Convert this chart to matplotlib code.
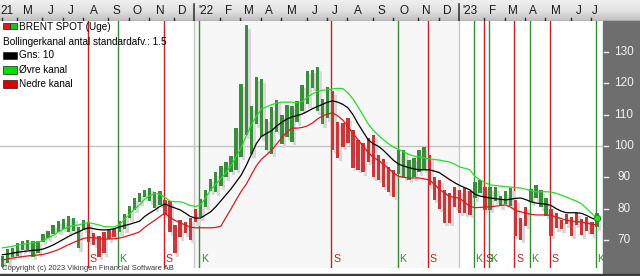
import datetime as dt
import matplotlib
matplotlib.use("Agg")
import matplotlib.pyplot as plt
from matplotlib.patches import Rectangle
from matplotlib.lines import Line2D
from matplotlib.colors import LinearSegmentedColormap
import matplotlib.transforms as mtransforms
import numpy as np

plt.rcParams['font.family'] = ['Liberation Sans', 'DejaVu Sans']

# ---------------- data (weekly Brent, week ending Fridays from 2021-04-09) ----------------
first_week_end = "2021-04-09"

high = [64.9, 67.0, 67.6, 69.0, 69.8, 70.0, 69.7, 69.7, 71.9, 72.9,
        74.9, 76.2, 76.6, 77.8, 77.1, 74.2, 76.3, 75.8, 72.3, 71.4,
        72.7, 73.5, 73.5, 76.0, 78.2, 80.8, 83.5, 85.1, 86.1, 86.7,
        85.3, 85.5, 82.7, 82.6, 74.8, 76.3, 75.7, 76.9, 79.8, 83.0,
        86.1, 89.5, 91.7, 93.7, 95.0, 96.8, 105.8, 119.8, 138.5, 112.7,
        122.0, 121.3, 108.7, 112.3, 114.8, 109.9, 113.0, 112.9, 114.3, 119.5,
        124.0, 124.4, 125.2, 115.1, 118.8, 117.5, 107.6, 107.3, 109.0, 105.0,
        102.0, 101.0, 102.5, 103.5, 97.0, 96.0, 93.3, 92.4, 98.7, 98.7,
        95.5, 96.2, 98.7, 99.7, 97.0, 90.0, 89.2, 86.0, 85.0, 87.0,
        86.0, 86.6, 85.6, 88.4, 89.2, 87.0, 86.8, 86.8, 84.1, 85.5,
        86.7, 82.8, 76.9, 80.5, 86.4, 87.5, 85.8, 83.3, 80.0, 78.5,
        76.4, 78.2, 77.3, 78.7, 76.8, 77.3, 75.6, 78.5]

low = [61.5, 62.5, 64.6, 64.9, 66.8, 66.9, 64.6, 65.8, 69.4, 70.5,
       71.8, 72.6, 73.6, 72.7, 72.9, 67.4, 73.3, 69.4, 68.5, 64.6,
       65.8, 70.2, 71.0, 72.5, 73.5, 77.0, 79.6, 82.0, 83.6, 82.3,
       80.1, 81.3, 78.0, 72.5, 65.7, 70.9, 72.2, 70.0, 75.7, 77.2,
       80.6, 85.6, 85.3, 87.1, 90.0, 91.8, 92.5, 96.5, 103.5, 97.4,
       107.0, 102.8, 98.6, 97.5, 104.6, 100.6, 102.9, 101.3, 107.6, 111.2,
       113.3, 118.6, 111.1, 107.0, 108.9, 98.7, 96.2, 99.7, 101.0, 93.0,
       92.4, 91.7, 95.0, 90.0, 89.2, 87.0, 85.3, 83.8, 91.0, 90.0,
       89.2, 90.0, 91.7, 92.4, 87.5, 82.8, 80.0, 75.5, 75.5, 80.6,
       78.7, 78.5, 78.0, 83.3, 85.0, 79.6, 79.6, 82.6, 80.7, 81.5,
       80.9, 71.4, 70.1, 74.5, 82.0, 83.3, 80.4, 77.7, 71.3, 73.8,
       73.5, 75.0, 71.4, 74.8, 71.5, 73.0, 71.9, 74.1]

upper = [67.5, 67.7, 68.0, 68.3, 68.6, 68.9, 69.1, 69.3, 69.8, 70.6,
         71.5, 72.5, 73.4, 74.2, 74.6, 74.8, 75.3, 75.5, 75.2, 74.8,
         74.3, 74.2, 74.2, 74.8, 76.5, 78.2, 79.8, 81.2, 83.0, 84.2,
         84.8, 84.6, 83.6, 82.4, 82.2, 82.2, 81.7, 81.0, 80.7, 81.2,
         83.5, 86.0, 87.8, 89.5, 91.5, 93.7, 96.5, 99.5, 103.2, 106.8,
         109.5, 111.8, 112.5, 113.2, 113.7, 114.0, 114.0, 114.0, 113.8, 114.2,
         115.5, 116.6, 117.4, 117.8, 118.0, 118.2, 118.4, 118.3, 117.0, 115.0,
         112.5, 109.8, 107.0, 105.0, 103.4, 102.0, 100.7, 99.6, 98.9, 98.1,
         97.3, 96.8, 96.5, 96.2, 95.9, 95.7, 95.5, 95.2, 94.9, 94.2,
         93.3, 92.9, 92.4, 90.3, 89.2, 88.3, 87.6, 87.4, 87.2, 87.0,
         86.9, 86.7, 86.6, 86.2, 85.7, 85.4, 85.4, 85.4, 85.3, 84.9,
         84.3, 83.7, 83.0, 82.4, 81.5, 80.0, 78.5, 76.9]

middle = [65.3, 65.5, 65.8, 66.1, 66.3, 66.5, 66.7, 66.8, 67.1, 67.7,
          68.4, 69.3, 70.2, 71.1, 71.9, 72.6, 73.4, 73.9, 73.6, 73.3,
          73.2, 73.3, 73.6, 74.1, 74.6, 75.0, 75.5, 76.0, 77.5, 78.6,
          79.6, 80.7, 81.5, 80.8, 80.2, 79.6, 78.6, 77.5, 77.0, 77.0,
          78.0, 79.0, 80.6, 82.5, 84.4, 86.3, 88.5, 90.7, 93.8, 97.3,
          100.8, 103.1, 104.0, 104.9, 106.4, 107.6, 108.6, 109.3, 109.7, 110.2,
          111.0, 111.9, 112.6, 113.3, 114.0, 114.4, 114.0, 113.3, 112.2, 110.0,
          107.1, 104.5, 102.0, 100.7, 99.9, 98.6, 97.0, 95.4, 94.2, 93.6,
          93.1, 92.7, 92.4, 92.4, 92.4, 92.0, 91.5, 90.4, 89.3, 88.3,
          87.4, 86.7, 86.0, 84.6, 84.0, 83.7, 83.4, 83.2, 83.0, 82.8,
          83.0, 83.3, 83.4, 82.9, 82.2, 81.8, 81.6, 81.4, 81.0, 80.0,
          79.2, 78.7, 78.7, 78.7, 78.5, 77.8, 77.0, 76.3]

lower = [63.7, 63.9, 64.2, 64.5, 64.7, 64.9, 65.1, 65.2, 65.4, 65.8,
         66.3, 66.9, 67.7, 68.5, 69.2, 69.9, 70.5, 70.8, 70.7, 70.5,
         70.3, 70.3, 70.4, 70.6, 71.0, 71.5, 72.0, 72.6, 74.0, 75.2,
         76.3, 77.5, 78.6, 77.2, 76.2, 75.5, 74.8, 74.1, 73.9, 73.9,
         73.9, 73.9, 74.0, 74.4, 77.2, 79.9, 82.8, 85.5, 87.8, 90.8,
         93.7, 95.8, 97.2, 98.6, 100.7, 102.7, 104.5, 105.7, 105.7, 105.9,
         106.4, 107.3, 108.6, 109.6, 110.2, 110.6, 109.6, 108.3, 106.2, 104.0,
         102.0, 99.9, 97.9, 96.4, 95.4, 94.2, 92.8, 91.4, 90.3, 90.0,
         89.8, 89.8, 89.8, 89.5, 89.2, 87.8, 86.2, 85.0, 83.9, 83.6,
         83.3, 82.0, 80.7, 80.3, 80.4, 80.5, 80.6, 80.8, 81.0, 81.2,
         80.5, 79.4, 79.0, 78.6, 78.2, 78.0, 78.0, 78.0, 77.9, 77.3,
         76.8, 76.3, 76.0, 75.9, 75.7, 75.4, 75.0, 74.8]

# bar index where a signal occurs, and its type (S = sell, K = buy)
signal_bar = [17, 23, 32, 39, 65, 78, 84, 93, 95, 96, 101, 104, 108, 117]
signal_type = ["S", "K", "S", "K", "S", "K", "S", "K", "S", "K", "S", "K", "S", "K"]

y_ticks = [70, 80, 90, 100, 110, 120, 130]
month_letters = ["J", "F", "M", "A", "M", "J", "J", "A", "S", "O", "N", "D"]

legend_title = "BRENT SPOT (Uge)"
legend_sub = "Bollingerkanal antal standardafv.: 1.5"
legend_items = ["Gns: 10", "Øvre kanal", "Nedre kanal"]
copyright_text = "Copyright (c) 2023 Vikingen Financial Software AB"

# ---------------- geometry ----------------
W, H = 640, 276
fig = plt.figure(figsize=(W / 100, H / 100), dpi=100)
fig.patch.set_facecolor('white')


def fx(px):
    return px / W


def fy(py):
    return 1 - py / H


BASE = dt.date(2022, 1, 1)
X0_DAY, X1_DAY = -267.2, 563.4
PLOT_R = 603
PPD = PLOT_R / (X1_DAY - X0_DAY)          # pixels per day
Y_TOP_PX, Y_BOT_PX = 21, 268
YMAX, YMIN = 139.9, 61.06
PPU = (Y_BOT_PX - Y_TOP_PX) / (YMAX - YMIN)  # pixels per price unit

GREEN_BAR = '#3a8d3a'
RED_BAR = '#c83838'
SIG_RED = '#c81e1e'
SIG_GREEN = '#2f8f2f'

ax = fig.add_axes([0, fy(Y_BOT_PX), fx(PLOT_R), (Y_BOT_PX - Y_TOP_PX) / H])
ax.set_xlim(X0_DAY, X1_DAY)
ax.set_ylim(YMIN, YMAX)
ax.axis('off')

start = dt.date.fromisoformat(first_week_end)
n = len(high)
week_end = [start + dt.timedelta(days=7 * i) for i in range(n)]
plot_date = [w + dt.timedelta(days=3) for w in week_end]
d = np.array([(p - BASE).days for p in plot_date], dtype=float)

# year shading and lines
ax.axvspan(0, 365, color='#f7f7f7', zorder=0, lw=0)
for yd in (0, 365):
    ax.axvline(yd, color='#c8c8c8', lw=1, zorder=1)
ax.axhline(100, color='#c4c4c4', lw=1, zorder=1)

# bar colours from signal state
state = 'K'
colors = []
sig_map = dict(zip(signal_bar, signal_type))
for i in range(n):
    if i in sig_map:
        state = sig_map[i]
    colors.append(GREEN_BAR if state == 'K' else RED_BAR)

bw = 3.4 / PPD
hi = np.array(high)
lo = np.array(low)
ax.bar(d + 2.6 / PPD, hi - lo, bottom=lo - 3.5 / PPU, width=bw, color='#d8d8d8',
       lw=0, zorder=2)
ax.bar(d, hi - lo, bottom=lo, width=bw, color=colors, lw=0, zorder=3)

# signal lines and labels
for b, t in zip(signal_bar, signal_type):
    xs = d[b] - 1.2 / PPD
    c = SIG_RED if t == 'S' else SIG_GREEN
    ax.axvline(xs, color=c, lw=1, zorder=1.5)
    ax.text(xs + 1.6 / PPD, 63.0, t, color=c, fontsize=7.6, ha='left',
            va='baseline', zorder=6)

# channel lines
ax.plot(d, upper, color='#22e022', lw=0.9, zorder=4)
ax.plot(d, middle, color='black', lw=0.9, zorder=4)
ax.plot(d, lower, color='#e01818', lw=0.9, zorder=4)
ax.plot(d[-1:], upper[-1:], 'o', ms=4.5, color='#33dd33', mec='#1f8f1f', mew=0.8,
        zorder=5)

# copyright
fig.text(fx(2), fy(270), copyright_text, fontsize=5.5, color='#3a3a3a',
         ha='left', va='baseline')

# ---------------- header ----------------
hax = fig.add_axes([0, fy(21), 1, 21 / H])
hx1 = X0_DAY + W / PPD
hax.set_xlim(X0_DAY, hx1)
hax.set_ylim(0, 21)
hax.axis('off')
cmap = LinearSegmentedColormap.from_list('hdr', ['#c0c0c0', '#e2e2e2', '#f0f0f0'])
grad = np.linspace(0, 1, 64).reshape(-1, 1)
hax.imshow(grad, extent=[X0_DAY, hx1, 0, 21], aspect='auto', cmap=cmap,
           origin='lower', zorder=0)
hax.axhline(0.4, color='#8c8c8c', lw=1, zorder=2)

months = []
y, m = 2021, 4
while (y, m) <= (2023, 7):
    months.append((y, m))
    m += 1
    if m > 12:
        m = 1
        y += 1

for (yy, mm) in months:
    idx = [i for i in range(n) if plot_date[i].year == yy and plot_date[i].month == mm]
    if not idx:
        continue
    first_d, last_d = d[idx[0]], d[idx[-1]]
    label_x = (first_d + last_d) / 2
    if mm == 1:
        yd = (dt.date(yy, 1, 1) - BASE).days
        hax.plot([yd, yd], [0, 17], color='#2a2a2a', lw=1.1, zorder=3)
        lab = "'" + str(yy)[2:]
    else:
        tx = first_d - 1.0
        hax.plot([tx, tx], [0, 3.5], color='#2a2a2a', lw=1, zorder=3)
        lab = month_letters[mm - 1]
    if (yy, mm) == months[0]:
        hax.text(X0_DAY, 10.5, str(yy)[2:], fontsize=8.5, color='#1a1a1a',
                 ha='left', va='center', zorder=4)
    else:
        hax.text(label_x, 10.5, lab, fontsize=8.5, color='#1a1a1a',
                 ha='center', va='center', zorder=4)

# ---------------- right panel ----------------
fig.add_artist(Rectangle((fx(PLOT_R), 0), fx(W - PLOT_R), fy(21), color='#6e6e6e',
                         transform=fig.transFigure, zorder=1))
blend = mtransforms.blended_transform_factory(fig.transFigure, ax.transData)
for v in y_ticks:
    fig.add_artist(Line2D([fx(604), fx(608)], [v, v], color='#eeeeee', lw=1,
                          transform=blend, zorder=2))
    fig.text(fx(624), v, str(v), transform=blend, fontsize=8.5, color='#f2f2f2',
             ha='center', va='center', zorder=3)

# bottom border
fig.add_artist(Rectangle((0, 0), 1, 2.5 / H, color='#3c3c3c',
                         transform=fig.transFigure, zorder=2))

# ---------------- legend ----------------
def box(px, py, w, h, col):
    fig.add_artist(Rectangle((fx(px), fy(py + h)), w / W, h / H, facecolor=col,
                             edgecolor='#202020', lw=0.5,
                             transform=fig.transFigure, zorder=5))


box(3, 23, 7, 6, '#d42020')
box(10, 23, 7, 6, '#20c020')
fig.text(fx(19), fy(26.5), legend_title, fontsize=7.2, color='black',
         ha='left', va='center', zorder=6)
fig.text(fx(3), fy(42), legend_sub, fontsize=7.2, color='black',
         ha='left', va='center', zorder=6)
item_cols = ['#000000', '#00e000', '#e00000']
item_y = [55.5, 70, 84]
for lab, col, yy in zip(legend_items, item_cols, item_y):
    box(3, yy - 4, 14, 7.5, col)
    fig.text(fx(19), fy(yy), lab, fontsize=7.2, color='black',
             ha='left', va='center', zorder=6)

fig.savefig('out.png', dpi=100)
